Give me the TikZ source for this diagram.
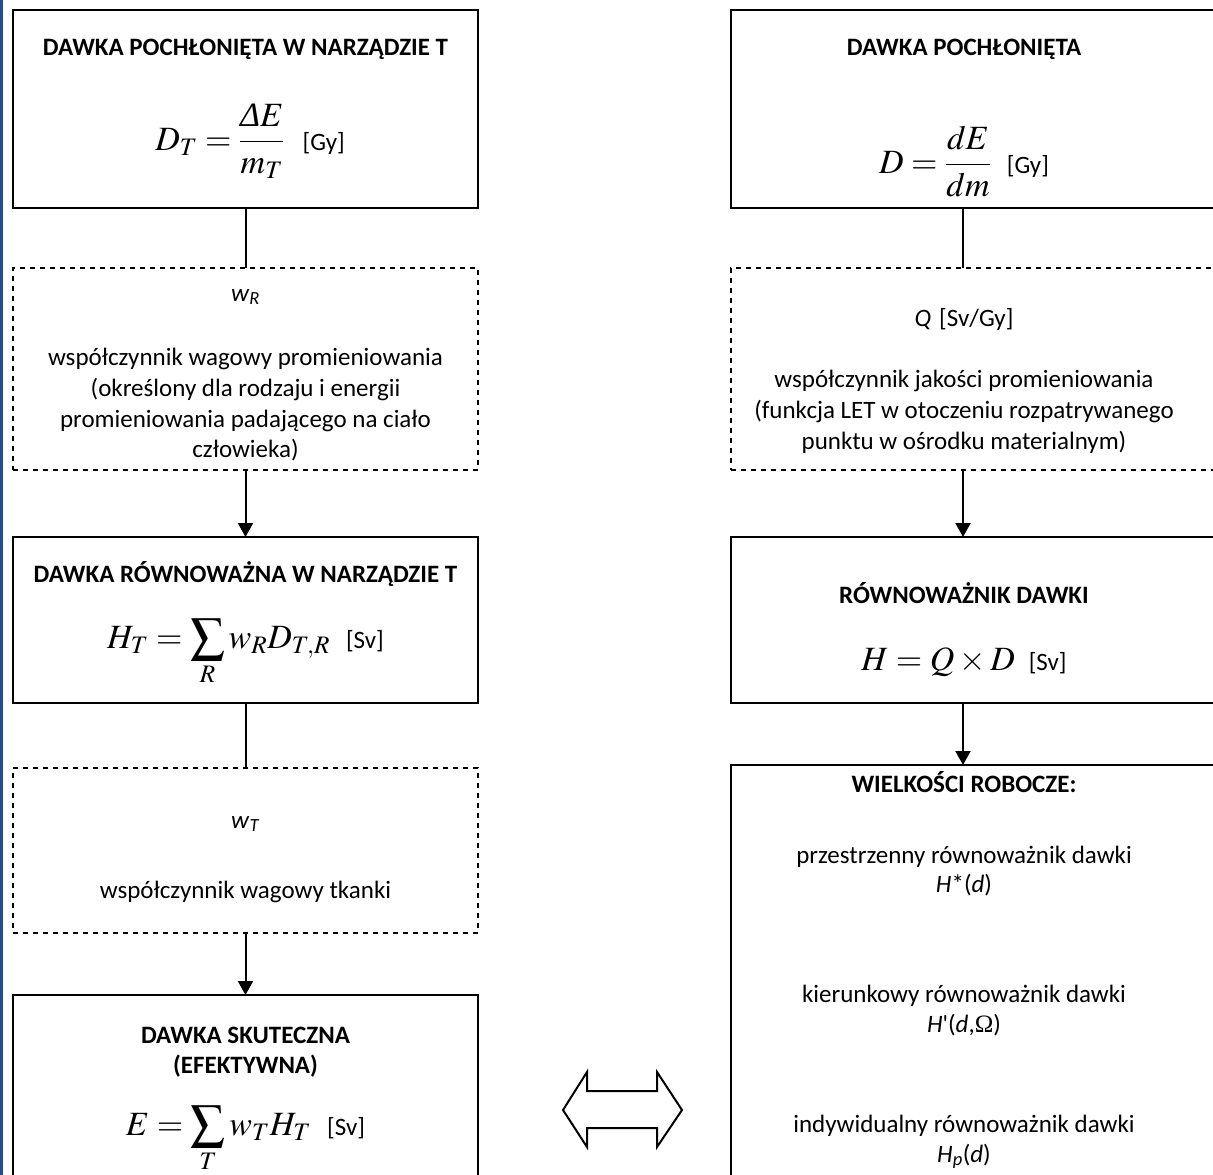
\documentclass[tikz,border=0pt]{standalone}
\usepackage{mathptmx}
\usepackage[no-math]{fontspec}
\setmainfont{Carlito}
\newfontfamily\tms{Liberation Serif}
\usetikzlibrary{arrows.meta}
\definecolor{edgeblue}{RGB}{31,78,140}
\tikzset{
  box/.style={draw, line width=2.5pt, inner sep=0pt, outer sep=0pt},
  dbox/.style={draw, line width=2.5pt, dash pattern=on 5pt off 5pt, inner sep=0pt, outer sep=0pt},
  txt/.style={anchor=base, inner sep=0pt, font=\fontsize{25}{30}\selectfont},
  ttl/.style={anchor=base, inner sep=0pt, font=\fontsize{25}{30}\selectfont\bfseries},
  frm/.style={anchor=base, inner sep=0pt, font=\fontsize{34}{40}\selectfont},
  conn/.style={line width=2pt},
  arr/.style={line width=2pt, -{Triangle[width=15pt,length=14pt]}},
}
\newcommand{\unitx}[1]{{\fontsize{25}{30}\selectfont #1}}
\begin{document}
\begin{tikzpicture}[x=1pt,y=-1pt]
\useasboundingbox (0,0) rectangle (1213,1175);
\clip (0,0) rectangle (1213,1175);
\fill[white] (0,0) rectangle (1213,1175);
\draw[edgeblue, line width=2.5pt] (1.5,0) -- (1.5,1175);

% left column boxes
\node[box,  minimum width=465pt, minimum height=198pt] (L1) at (245.5,109) {};
\node[dbox, minimum width=465pt, minimum height=202pt] (L2) at (245.5,369) {};
\node[box,  minimum width=465pt, minimum height=166pt] (L3) at (245.5,620) {};
\node[dbox, minimum width=465pt, minimum height=165pt] (L4) at (245.5,850.5) {};
\node[box,  minimum width=465pt, minimum height=205pt] (L5) at (245.5,1097.5) {};

% right column boxes
\node[box,  minimum width=509pt, minimum height=198pt] (R1) at (985.5,109) {};
\node[dbox, minimum width=509pt, minimum height=202pt] (R2) at (985.5,369) {};
\node[box,  minimum width=509pt, minimum height=166pt] (R3) at (985.5,620) {};
\node[box,  minimum width=509pt, minimum height=435pt] (R4) at (985.5,982.5) {};
\coordinate (rx) at (963,0);

% connectors
\draw[conn] (L1.south) -- (L2.north);
\draw[arr]  (L2.south) -- (L3.north);
\draw[conn] (L3.south) -- (L4.north);
\draw[arr]  (L4.south) -- (L5.north);
\draw[conn] (rx |- R1.south) -- (rx |- R2.north);
\draw[arr]  (rx |- R2.south) -- (rx |- R3.north);
\draw[arr]  (rx |- R3.south) -- (rx |- R4.north);

% left texts
\node[ttl] (t1) at (245.5,55) {DAWKA POCHŁONIĘTA W NARZĄDZIE T};
\node[frm] (f1) at (250,150) {$\displaystyle D_T=\frac{\mbox{\tms\itshape Δ}E}{m_T}$\hspace{18pt}\unitx{[Gy]}};
\node[txt] (t2) at (245.5,301) {\textit{w}\textsubscript{\textit{R}}};
\node[txt] (t3) at (245.5,365) {współczynnik wagowy promieniowania};
\node[txt] (t4) at (245.5,396) {(określony dla rodzaju i energii};
\node[txt] (t5) at (245.5,427) {promieniowania padającego na ciało};
\node[txt] (t6) at (245.5,457) {człowieka)};
\node[ttl] (t7) at (245.5,582) {DAWKA RÓWNOWAŻNA W NARZĄDZIE T};
\node[frm] (f2) at (245.5,648) {$\displaystyle H_T=\sum_R w_R D_{T,R}$\hspace{16pt}\unitx{[Sv]}};
\node[txt] (t8) at (245.5,828) {\textit{w}\textsubscript{\textit{T}}};
\node[txt] (t9) at (245.5,898) {współczynnik wagowy tkanki};
\node[ttl] (t10) at (245.5,1043) {DAWKA SKUTECZNA};
\node[ttl] (t11) at (245.5,1073) {(EFEKTYWNA)};
\node[frm] (f3) at (245.5,1135) {$\displaystyle E=\sum_T w_T H_T$\hspace{16pt}\unitx{[Sv]}};

% right texts
\node[ttl] (r1) at (964,55) {DAWKA POCHŁONIĘTA};
\node[frm] (g1) at (964,173) {$\displaystyle D=\frac{dE}{dm}$\hspace{16pt}\unitx{[Gy]}};
\node[txt] (r2) at (964,326) {\textit{Q}\hspace{8pt}[Sv/Gy]};
\node[txt] (r3) at (964,387) {współczynnik jakości promieniowania};
\node[txt] (r4) at (964,418) {(funkcja LET w otoczeniu rozpatrywanego};
\node[txt] (r5) at (964,449) {punktu w ośrodku materialnym)};
\node[ttl] (r6) at (964,603) {RÓWNOWAŻNIK DAWKI};
\node[frm] (g2) at (964,670) {$H=Q\times D$\hspace{14pt}\unitx{[Sv]}};
\node[ttl] (r7) at (964,792) {WIELKOŚCI ROBOCZE:};
\node[txt] (r8) at (964,863) {przestrzenny równoważnik dawki};
\node[txt] (r9) at (964,892) {\textit{H}*(\textit{d})};
\node[txt] (r10) at (964,1002) {kierunkowy równoważnik dawki};
\node[txt] (r11) at (964,1032) {\textit{H}\textquotesingle(\textit{d},{\tms Ω})};
\node[txt] (r12) at (964,1132) {indywidualny równoważnik dawki};
\node[txt] (r13) at (964,1162) {\textit{H}\textsubscript{\textit{p}}(\textit{d})};

% double arrow
\draw[line width=2pt, line join=miter] (563,1110) -- (587,1072) -- (587,1091) -- (657,1091) -- (657,1072)
  -- (682,1110) -- (657,1147) -- (657,1128) -- (587,1128) -- (587,1147) -- cycle;
\end{tikzpicture}
\end{document}
